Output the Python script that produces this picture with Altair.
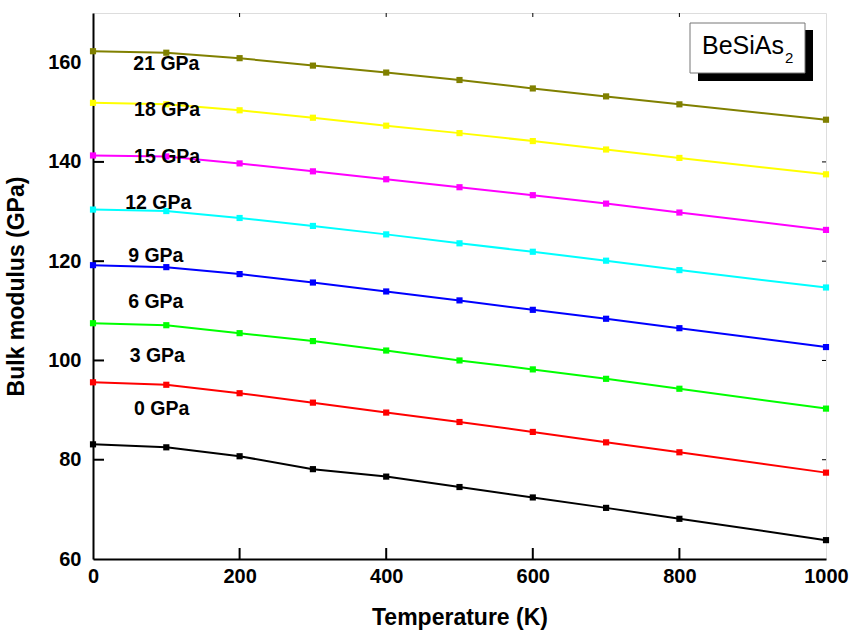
import altair as alt
import pandas as pd

# ---------------- data ----------------
temperature = [0, 100, 200, 300, 400, 500, 600, 700, 800, 1000]
pressures = ["0 GPa", "3 GPa", "6 GPa", "9 GPa", "12 GPa", "15 GPa", "18 GPa", "21 GPa"]

b_0 = [83.1, 82.5, 80.7, 78.1, 76.6, 74.5, 72.4, 70.3, 68.1, 63.8]
b_3 = [95.6, 95.1, 93.4, 91.5, 89.5, 87.6, 85.6, 83.5, 81.5, 77.4]
b_6 = [107.5, 107.1, 105.5, 103.9, 102.0, 100.0, 98.2, 96.3, 94.3, 90.3]
b_9 = [119.2, 118.8, 117.4, 115.7, 113.9, 112.1, 110.2, 108.4, 106.5, 102.7]
b_12 = [130.4, 130.1, 128.7, 127.1, 125.4, 123.6, 121.9, 120.1, 118.2, 114.7]
b_15 = [141.3, 141.1, 139.7, 138.1, 136.5, 134.9, 133.3, 131.6, 129.8, 126.3]
b_18 = [151.9, 151.6, 150.4, 148.9, 147.3, 145.8, 144.2, 142.5, 140.8, 137.5]
b_21 = [162.3, 162.0, 160.9, 159.4, 158.0, 156.5, 154.8, 153.2, 151.6, 148.5]
series = [b_0, b_3, b_6, b_9, b_12, b_15, b_18, b_21]

colors = ["#000000", "#FF0000", "#00FF00", "#0000FF", "#00FFFF", "#FF00FF", "#FFFF00", "#808000"]

# in-plot series labels (data coordinates)
label_temp = [56, 50, 48, 48, 44, 56, 56, 55]
label_mod = [90.3, 100.8, 111.8, 121.0, 131.8, 140.9, 150.5, 159.8]

x_ticks = [0, 200, 400, 600, 800, 1000]
y_ticks = [60, 80, 100, 120, 140, 160]

# ---------------- tables ----------------
rows = []
for p, vals in zip(pressures, series):
    for t, v in zip(temperature, vals):
        rows.append({"T": t, "B": v, "P": p})
df = pd.DataFrame(rows)
lab_df = pd.DataFrame({"T": label_temp, "B": label_mod, "P": pressures})
xt_df = pd.DataFrame({"T": x_ticks[1:-1]})
yt_df = pd.DataFrame({"B": y_ticks[1:-1]})
one = pd.DataFrame({"k": [0]})

W, H = 733, 546
FONT = "Liberation Sans"

xs = alt.Scale(domain=[0, 1000], nice=False, zero=False)
ys = alt.Scale(domain=[60, 170], nice=False, zero=False)
cs = alt.Scale(domain=pressures, range=colors)

base = alt.Chart(df)

lines = base.mark_line(strokeWidth=2).encode(
    x=alt.X("T:Q", scale=xs, axis=alt.Axis(
        title="Temperature (K)", values=x_ticks, format="d", ticks=False,
        labelFontSize=20, labelFontWeight="bold", labelPadding=7,
        titleFontSize=23, titleFontWeight="bold", titlePadding=20,
        domainColor="black", domainWidth=2, grid=False, labelFlush=False)),
    y=alt.Y("B:Q", scale=ys, axis=alt.Axis(
        title="Bulk modulus (GPa)", values=y_ticks, format="d", ticks=False,
        labelFontSize=20, labelFontWeight="bold", labelPadding=12,
        titleFontSize=23, titleFontWeight="bold", titlePadding=19,
        domainColor="black", domainWidth=2, grid=False)),
    color=alt.Color("P:N", scale=cs, legend=None),
    detail="P:N",
)

points = base.mark_point(shape="square", filled=True, size=38, opacity=1).encode(
    x=alt.X("T:Q", scale=xs),
    y=alt.Y("B:Q", scale=ys),
    color=alt.Color("P:N", scale=cs, legend=None),
)

labels = alt.Chart(lab_df).mark_text(
    align="left", baseline="middle", fontSize=19.5, fontWeight="bold", font=FONT, color="black"
).encode(x=alt.X("T:Q", scale=xs), y=alt.Y("B:Q", scale=ys), text="P:N")

# inward ticks
left_ticks = alt.Chart(yt_df).mark_rule(color="black", strokeWidth=2).encode(
    y=alt.Y("B:Q", scale=ys), x=alt.value(0), x2=alt.value(11))
right_ticks = alt.Chart(yt_df).mark_rule(color="black", strokeWidth=1).encode(
    y=alt.Y("B:Q", scale=ys), x=alt.value(W - 4), x2=alt.value(W))
bottom_ticks = alt.Chart(xt_df).mark_rule(color="black", strokeWidth=2).encode(
    x=alt.X("T:Q", scale=xs), y=alt.value(H - 11), y2=alt.value(H))
top_ticks = alt.Chart(xt_df).mark_rule(color="black", strokeWidth=1).encode(
    x=alt.X("T:Q", scale=xs), y=alt.value(0), y2=alt.value(4))

# annotation box with shadow
shadow = alt.Chart(one).mark_rect(color="black").encode(
    x=alt.value(605), x2=alt.value(720), y=alt.value(17), y2=alt.value(68))
box = alt.Chart(one).mark_rect(fill="white", stroke="#777777", strokeWidth=1).encode(
    x=alt.value(597), x2=alt.value(712), y=alt.value(10), y2=alt.value(60))
name = alt.Chart(one).mark_text(
    text="BeSiAs", align="left", baseline="alphabetic", fontSize=25, font=FONT, color="black"
).encode(x=alt.value(609), y=alt.value(41))
sub = alt.Chart(one).mark_text(
    text="2", align="left", baseline="alphabetic", fontSize=15, font=FONT, color="black"
).encode(x=alt.value(692), y=alt.value(50))

chart = alt.layer(
    lines, points, labels, left_ticks, right_ticks, bottom_ticks, top_ticks,
    shadow, box, name, sub
).properties(
    width=W, height=H,
    padding={"left": 93, "top": 13, "right": 26, "bottom": 74},
    autosize=alt.AutoSizeParams(type="none"),
).configure_view(
    stroke="black", strokeWidth=2
).configure_axis(
    labelFont=FONT, titleFont=FONT, labelColor="black", titleColor="black"
).configure(background="white")

chart.save("out.html", embed_options={"renderer": "svg", "actions": False})
